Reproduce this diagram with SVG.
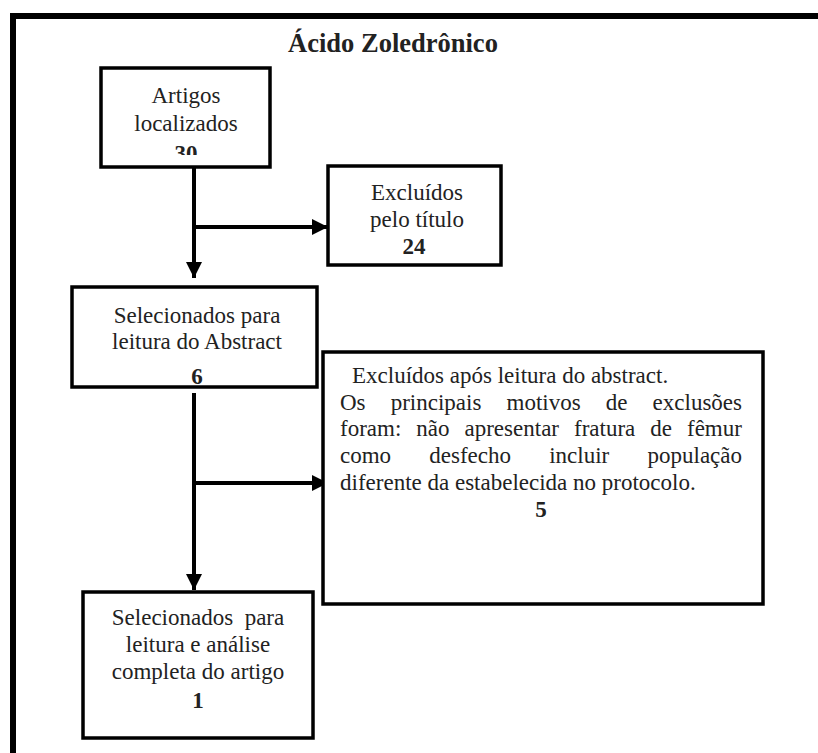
<svg xmlns="http://www.w3.org/2000/svg" width="818" height="753" viewBox="0 0 818 753">
  <style>
    .box { fill: #ffffff; stroke: #000000; stroke-width: 3.5; }
    .frame { fill: none; stroke: #000000; stroke-width: 6; }
    .link { fill: none; stroke: #000000; stroke-width: 4; }
    text { font-family: "Liberation Serif", "Times New Roman", serif; font-size: 23px; fill: #222222; }
    .c { text-anchor: middle; }
    .b { font-weight: bold; }
    .title { font-size: 26.5px; font-weight: bold; text-anchor: middle; }
    .pre { white-space: pre; }
  </style>
  <defs>
    <marker id="arrow" markerUnits="userSpaceOnUse" markerWidth="16" markerHeight="16" viewBox="0 0 16 16" refX="16" refY="8" orient="auto">
      <path d="M0,0 L16,8 L0,16 Z" fill="#000000"/>
    </marker>
    <clipPath id="clip-n1">
      <rect x="101" y="68" width="169" height="87"/>
    </clipPath>
  </defs>

  <rect x="0" y="0" width="818" height="753" fill="#ffffff"/>

  <!-- outer frame: left and top edges -->
  <path class="frame" d="M13,753 V16 H818"/>

  <text class="title" x="393" y="52">Ácido Zoledrônico</text>

  <!-- connectors -->
  <g id="connectors">
    <path class="link" d="M194,167 V278" marker-end="url(#arrow)"/>
    <path class="link" d="M194,227 H328" marker-end="url(#arrow)"/>
    <path class="link" d="M194,393 V590" marker-end="url(#arrow)"/>
    <path class="link" d="M194,483 H328" marker-end="url(#arrow)"/>
  </g>

  <g id="n1">
    <rect class="box" x="101" y="68" width="169" height="99"/>
    <g clip-path="url(#clip-n1)">
      <text class="c" x="186" y="103">Artigos</text>
      <text class="c" x="186" y="131">localizados</text>
      <text class="c b" x="186" y="161">30</text>
    </g>
  </g>

  <g id="n2">
    <rect class="box" x="328" y="166" width="173" height="99"/>
    <text class="c" x="417" y="200">Excluídos</text>
    <text class="c" x="417" y="227">pelo título</text>
    <text class="c b" x="414" y="254">24</text>
  </g>

  <g id="n3">
    <rect class="box" x="72" y="287" width="245" height="100"/>
    <text class="c" x="197" y="323">Selecionados para</text>
    <text class="c" x="197" y="349">leitura do Abstract</text>
    <text class="c b" x="197" y="384">6</text>
  </g>

  <!-- justified paragraph: words placed on fixed positions -->
  <g id="n4">
    <rect class="box" x="323" y="352" width="440" height="252"/>
    <text x="352" y="383">Excluídos após leitura do abstract.</text>
    <text y="410"><tspan x="340">Os</tspan><tspan x="390.7">principais</tspan><tspan x="506.5">motivos</tspan><tspan x="605.8">de</tspan><tspan x="652.6">exclusões</tspan></text>
    <text y="436"><tspan x="340">foram:</tspan><tspan x="416.3">não</tspan><tspan x="464.5">apresentar</tspan><tspan x="574">fratura</tspan><tspan x="650.3">de</tspan><tspan x="687">fêmur</tspan></text>
    <text y="463"><tspan x="340">como</tspan><tspan x="429.3">desfecho</tspan><tspan x="549.2">incluir</tspan><tspan x="647.5">população</tspan></text>
    <text x="340" y="490">diferente da estabelecida no protocolo.</text>
    <text class="c b" x="541" y="517">5</text>
  </g>

  <g id="n5">
    <rect class="box" x="83" y="592" width="230" height="146"/>
    <text class="c pre" x="198" y="625">Selecionados  para</text>
    <text class="c" x="198" y="652">leitura e análise</text>
    <text class="c" x="198" y="679">completa do artigo</text>
    <text class="c b" x="198" y="708">1</text>
  </g>
</svg>
